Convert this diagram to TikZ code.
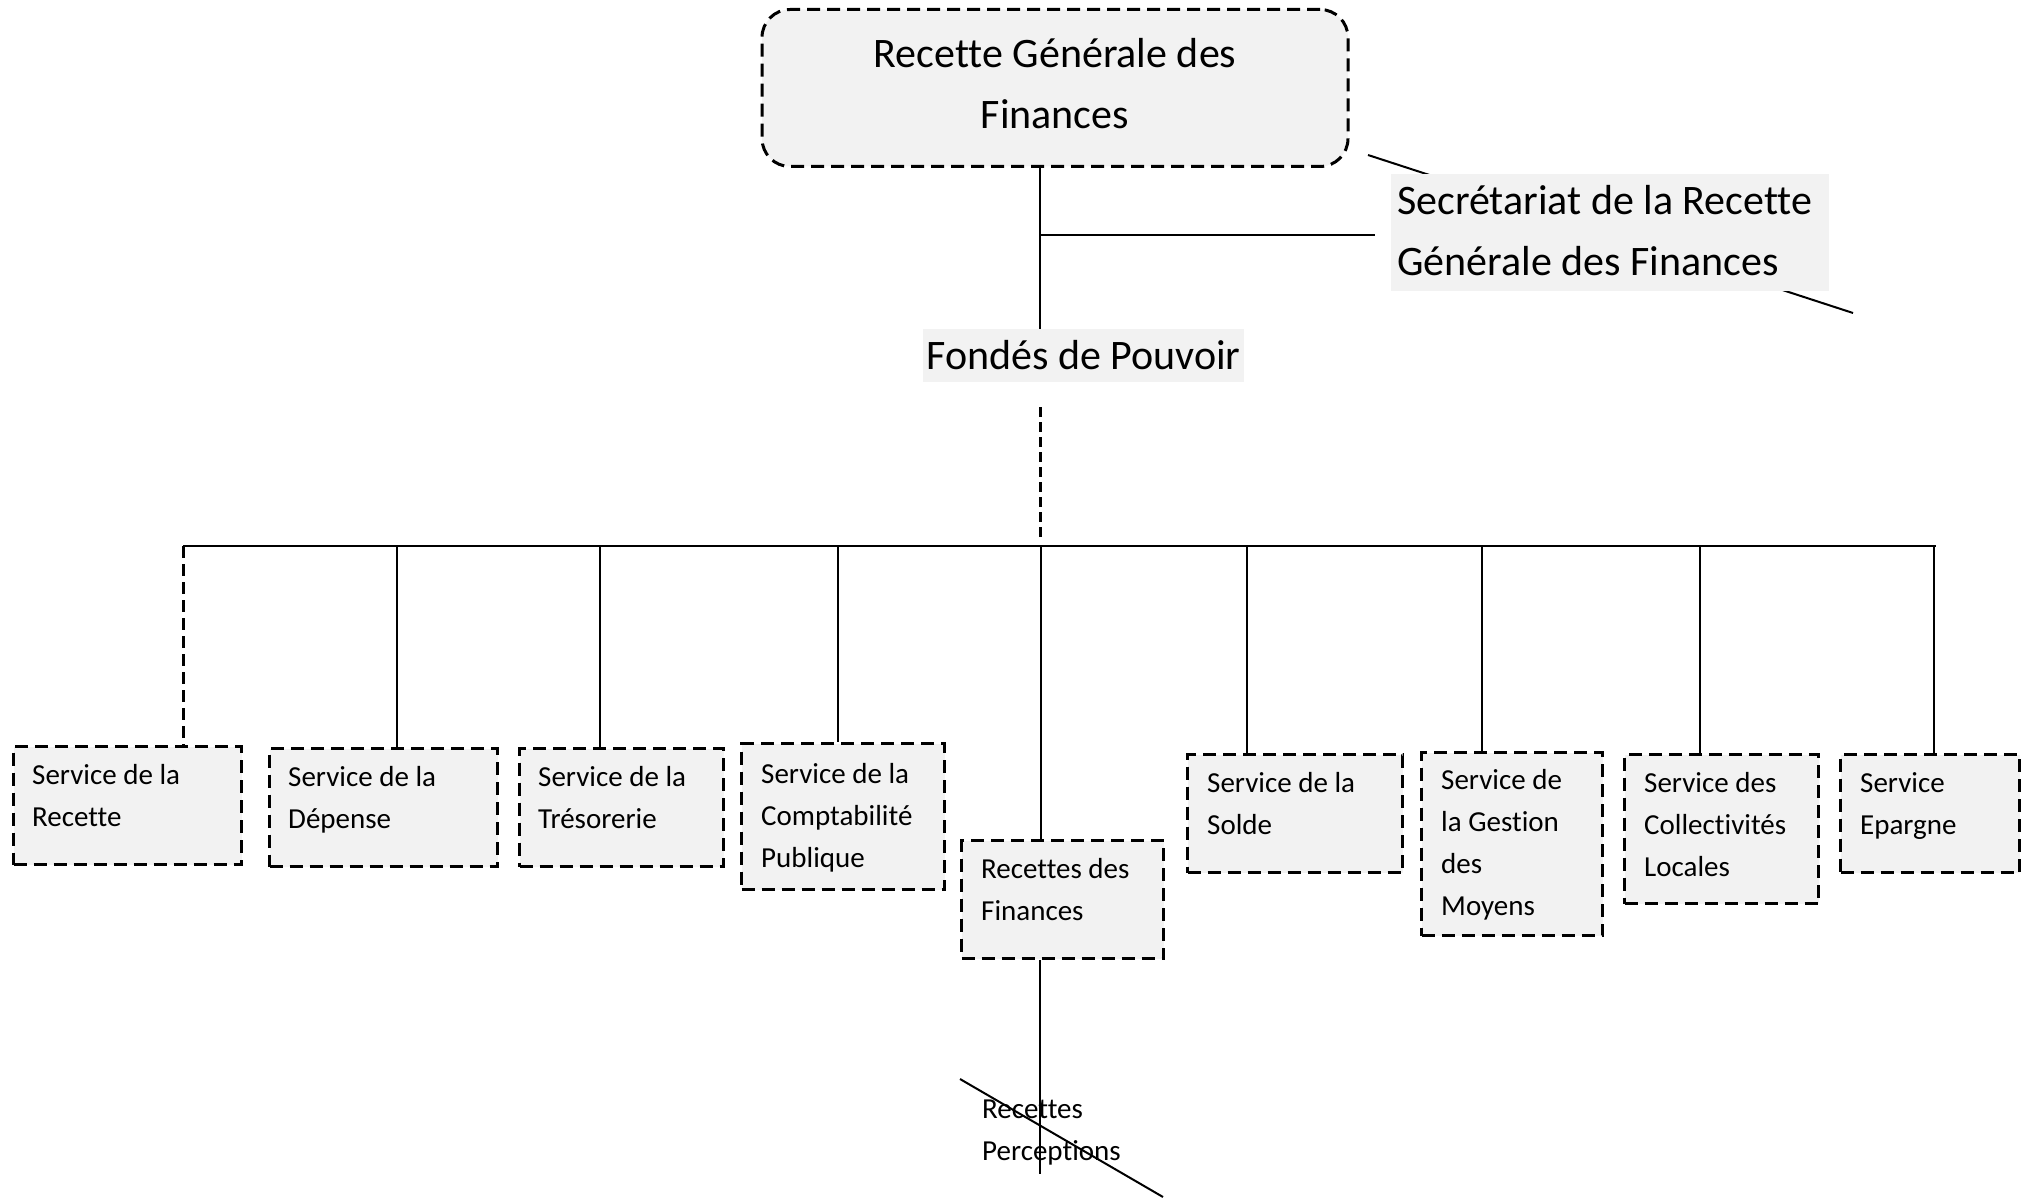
\documentclass[tikz,border=0pt]{standalone}
\usepackage{fontspec}
\setmainfont{Carlito}[Ligatures=NoCommon]
\definecolor{boxgray}{HTML}{F2F2F2}
\newcommand\svcfont{\fontsize{29}{42}\selectfont}
\newcommand\bigfont{\fontsize{42}{61}\selectfont}
\begin{document}
\begin{tikzpicture}[x=1pt,y=-1pt,
 link/.style={line width=2pt, black},
 buslink/.style={line width=2.5pt, black},
 dlink/.style={line width=3pt, dash pattern=on 10pt off 5pt},
 svc/.style={draw, line width=3pt, dash pattern=on 13pt off 7pt, fill=boxgray, anchor=north west, inner sep=0pt},
 lbl/.style={anchor=base west, inner sep=0pt, font=\svcfont},
 biglbl/.style={anchor=base west, inner sep=0pt, font=\bigfont},
]
\useasboundingbox (0,0) rectangle (2022,1198);

% top box
\node[draw, line width=3pt, dash pattern=on 13pt off 7pt, fill=boxgray, rounded corners=28pt,
      minimum width=586pt, minimum height=157pt, inner sep=0pt]
      (rgf) at (1055,88) {};
\node[align=center, font=\bigfont, inner sep=0pt] (rgft) at (1055,84) {Recette Générale des\\Finances};

% diagonal artifact behind secretariat
\coordinate (d1a) at (1368,155);
\coordinate (d1b) at (1853,313);
\draw[link] (d1a) -- (d1b);

% secretariat
\node[fill=boxgray, anchor=north west, minimum width=438pt, minimum height=117pt, inner sep=0pt] (sec) at (1391,174) {};
\node[biglbl] (secl) at (1397,215) {\parbox[t]{440pt}{\raggedright Secrétariat de la Recette\\Générale des Finances}};

% fondes de pouvoir
\node[fill=boxgray, minimum width=321pt, minimum height=53pt, inner sep=0pt, font=\bigfont] (fp) at (1083.5,355.5) {Fondés de Pouvoir};

% spine
\coordinate (spine) at (1040,0);
\draw[link] (spine |- rgf.south) -- (spine |- fp.north);
\coordinate (secend) at (1375,235);
\draw[link] (spine |- secend) -- (secend);
\coordinate (dtop) at (1040,407);
\coordinate (dbot) at (1040,540);
\draw[dlink] (dtop) -- (dbot);

% service boxes
\node[svc, minimum width=228pt, minimum height=118pt] (b1) at (12,745) {};
\node[svc, minimum width=228pt, minimum height=118pt] (b2) at (268,747) {};
\node[svc, minimum width=204pt, minimum height=118pt] (b3) at (518,747) {};
\node[svc, minimum width=203pt, minimum height=146pt] (b4) at (740,742) {};
\node[svc, minimum width=202pt, minimum height=118pt] (b5) at (960,839) {};
\node[svc, minimum width=215pt, minimum height=118pt] (b6) at (1186,753) {};
\node[svc, minimum width=181pt, minimum height=183pt] (b7) at (1420,751) {};
\node[svc, minimum width=194pt, minimum height=149pt] (b8) at (1623,753) {};
\node[svc, minimum width=179pt, minimum height=118pt] (b9) at (1839,753) {};

\node[lbl, xshift=20pt, yshift=-39pt] (l1) at (b1.north west) {\parbox[t]{300pt}{\raggedright Service de la\\Recette}};
\node[lbl, xshift=20pt, yshift=-39pt] (l2) at (b2.north west) {\parbox[t]{300pt}{\raggedright Service de la\\Dépense}};
\node[lbl, xshift=20pt, yshift=-39pt] (l3) at (b3.north west) {\parbox[t]{300pt}{\raggedright Service de la\\Trésorerie}};
\node[lbl, xshift=21pt, yshift=-41pt] (l4) at (b4.north west) {\parbox[t]{300pt}{\raggedright Service de la\\Comptabilité\\Publique}};
\node[lbl, xshift=21pt, yshift=-39pt] (l5) at (b5.north west) {\parbox[t]{300pt}{\raggedright Recettes des\\Finances}};
\node[lbl, xshift=21pt, yshift=-39pt] (l6) at (b6.north west) {\parbox[t]{300pt}{\raggedright Service de la\\Solde}};
\node[lbl, xshift=21pt, yshift=-38pt] (l7) at (b7.north west) {\parbox[t]{300pt}{\raggedright Service de\\la Gestion\\des\\Moyens}};
\node[lbl, xshift=21pt, yshift=-39pt] (l8) at (b8.north west) {\parbox[t]{300pt}{\raggedright Service des\\Collectivités\\Locales}};
\node[lbl, xshift=21pt, yshift=-39pt] (l9) at (b9.north west) {\parbox[t]{300pt}{\raggedright Service\\Epargne}};

% bus
\coordinate (busL) at (183,546);
\coordinate (busR) at (1936,546);
\draw[buslink] (busL) -- (busR);
\draw[dlink, dash pattern=on 12pt off 6pt] (busL) -- (busL |- b1.north);
\foreach \x/\b in {397/b2, 600/b3, 838/b4, 1041/b5, 1247/b6, 1482/b7, 1700/b8, 1934/b9} {
  \coordinate (t\b) at (\x,546);
  \draw[link] (t\b) -- (t\b |- \b.north);
}

% recettes perceptions
\node[lbl] (rp) at (982,1118) {\parbox[t]{300pt}{\raggedright Recettes\\Perceptions}};
\coordinate (rpend) at (1040,1174);
\draw[link] (spine |- b5.south) -- (rpend);
\coordinate (d2a) at (960,1079);
\coordinate (d2b) at (1163,1197);
\draw[link] (d2a) -- (d2b);
\end{tikzpicture}
\end{document}
